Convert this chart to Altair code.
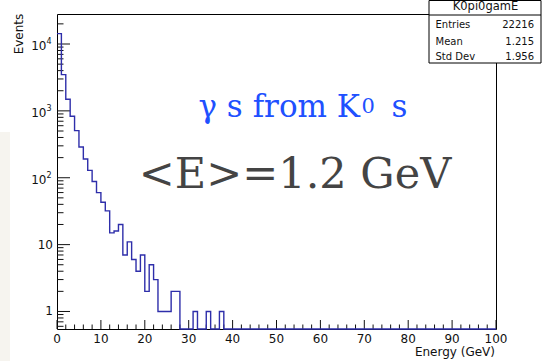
import altair as alt
import pandas as pd

# ---- data ----
bin_counts = [14300, 3490, 1490, 830, 507, 288, 191, 129, 88, 60,
              43, 32, 15, 16, 20, 7, 11, 6, 4, 7,
              2, 5, 3, 1, 1, 1, 2, 2, 0, 0,
              0, 1, 0, 0, 1, 0, 0, 1, 0, 0]
n_bins = 100
x_major = [0, 10, 20, 30, 40, 50, 60, 70, 80, 90, 100]
x_minor = [v for v in range(0, 101, 2) if v % 10 != 0]
y_major = [1, 10, 100, 1000, 10000]
y_minor = [m * 10 ** e for e in range(-1, 5) for m in range(2, 10)
           if 0.547 <= m * 10 ** e <= 28100]
y_label_base = ["1", "10", "10", "10", "10"]
y_label_exp = ["", "", "2", "3", "4"]
stats_names = ["Entries", "Mean", "Std Dev"]
stats_values = ["22216", "1.215", "1.956"]
hist_name = "K0pi0gamE"

W, H = 439, 315
Y_DOMAIN = [0.547, 28100]
FLOOR = 0.01

xs = alt.Scale(domain=[0, 100], nice=False, zero=False)
ys = alt.Scale(type="log", domain=Y_DOMAIN, clamp=True, nice=False)

counts = bin_counts + [0] * (n_bins - len(bin_counts))
hist = pd.DataFrame({
    "x": list(range(n_bins)) + [n_bins],
    "n": [c if c > 0 else FLOOR for c in counts] + [FLOOR],
})

line = alt.Chart(hist).mark_line(
    interpolate="step-after", color="#2e2eaa", strokeWidth=1.4
).encode(
    x=alt.X("x:Q", scale=xs, axis=None),
    y=alt.Y("n:Q", scale=ys, axis=None),
)

FONT = "DejaVu Sans"
TXT = "#111111"

xmaj = alt.Chart(pd.DataFrame({"v": x_major})).mark_rule(color=TXT, strokeWidth=1).encode(
    x=alt.X("v:Q", scale=xs, axis=None), y=alt.value(H), y2=alt.value(H - 9))
xmin = alt.Chart(pd.DataFrame({"v": x_minor})).mark_rule(color=TXT, strokeWidth=1).encode(
    x=alt.X("v:Q", scale=xs, axis=None), y=alt.value(H), y2=alt.value(H - 4.5))
ymaj = alt.Chart(pd.DataFrame({"v": y_major})).mark_rule(color=TXT, strokeWidth=1).encode(
    y=alt.Y("v:Q", scale=ys, axis=None), x=alt.value(0), x2=alt.value(13))
ymin = alt.Chart(pd.DataFrame({"v": y_minor})).mark_rule(color=TXT, strokeWidth=1).encode(
    y=alt.Y("v:Q", scale=ys, axis=None), x=alt.value(0), x2=alt.value(6.5))

xlab = alt.Chart(pd.DataFrame({"v": x_major, "t": [str(v) for v in x_major]})).mark_text(
    font=FONT, fontSize=12, color=TXT, baseline="middle", align="center"
).encode(x=alt.X("v:Q", scale=xs, axis=None), y=alt.value(H + 10), text="t:N")

ydf = pd.DataFrame({"v": y_major, "b": y_label_base, "e": y_label_exp,
                    "p": [e != "" for e in y_label_exp]})
ylab_plain = alt.Chart(ydf[~ydf.p]).mark_text(
    font=FONT, fontSize=12, color=TXT, baseline="middle", align="right"
).encode(y=alt.Y("v:Q", scale=ys, axis=None), x=alt.value(-4), text="b:N")
ylab_pow = alt.Chart(ydf[ydf.p]).mark_text(
    font=FONT, fontSize=12, color=TXT, baseline="middle", align="right", dy=2
).encode(y=alt.Y("v:Q", scale=ys, axis=None), x=alt.value(-10.5), text="b:N")
ylab_exp = alt.Chart(ydf[ydf.p]).mark_text(
    font=FONT, fontSize=8, color=TXT, baseline="middle", align="left", dy=-2
).encode(y=alt.Y("v:Q", scale=ys, axis=None), x=alt.value(-10.5), text="e:N")


def label(t, x, y, **kw):
    return alt.Chart(pd.DataFrame({"t": [t]})).mark_text(**kw).encode(
        x=alt.value(x), y=alt.value(y), text="t:N")


ytitle = label("Events", -38, 20, font=FONT, fontSize=12, color=TXT,
               angle=270, align="center", baseline="middle")
xtitle = label("Energy (GeV)", 438, 337.5, font=FONT, fontSize=12, color=TXT,
               align="right", baseline="middle")

# stats box
box = alt.Chart(pd.DataFrame({"a": [0]})).mark_rect(
    fill="white", stroke="black", strokeWidth=1
).encode(x=alt.value(372), x2=alt.value(484), y=alt.value(-13.5), y2=alt.value(49))
sep = alt.Chart(pd.DataFrame({"a": [0]})).mark_rule(color="black", strokeWidth=1).encode(
    x=alt.value(372), x2=alt.value(484), y=alt.value(1))
stitle = label(hist_name, 428.5, -6.8, font=FONT, fontSize=11.5, color=TXT,
               align="center", baseline="middle")
srows = []
for i, (nm, vl) in enumerate(zip(stats_names, stats_values)):
    yy = [11, 27.5, 42.5][i]
    srows.append(label(nm, 378.5, yy, font=FONT, fontSize=10, color=TXT,
                       align="left", baseline="middle"))
    srows.append(label(vl, 477, yy, font=FONT, fontSize=10, color=TXT,
                       align="right", baseline="middle"))

SERIF = "DejaVu Serif"
BLUE = "#2050ff"
blue1 = label("γ s from K", 303, 102.7, font=SERIF, fontSize=31, color=BLUE,
              align="right", baseline="alphabetic")
blue2 = label("0", 304.5, 99.3, font=SERIF, fontSize=21, color=BLUE,
              align="left", baseline="alphabetic")
blue3 = label("s", 334.5, 102.7, font=SERIF, fontSize=31, color=BLUE,
              align="left", baseline="alphabetic")
gray = label("<E>=1.2 GeV", 238, 174, font=SERIF, fontSize=43, color="#444444",
             align="center", baseline="alphabetic")

beige = alt.Chart(pd.DataFrame({"a": [0]})).mark_rect(color="#f6f4ef").encode(
    x=alt.value(-57), x2=alt.value(-47), y=alt.value(118), y2=alt.value(347))

chart = alt.layer(
    beige, xmin, xmaj, ymin, ymaj, line, xlab, ylab_plain, ylab_pow, ylab_exp,
    ytitle, xtitle, blue1, blue2, blue3, gray, box, sep, stitle, *srows
).properties(
    width=W, height=H,
    padding={"left": 57, "top": 14, "right": 48, "bottom": 32},
    autosize=alt.AutoSizeParams(type="none"),
    background="white",
).configure_view(stroke="black", strokeWidth=1)

chart.save("out.html", embed_options={"renderer": "svg", "actions": False})
